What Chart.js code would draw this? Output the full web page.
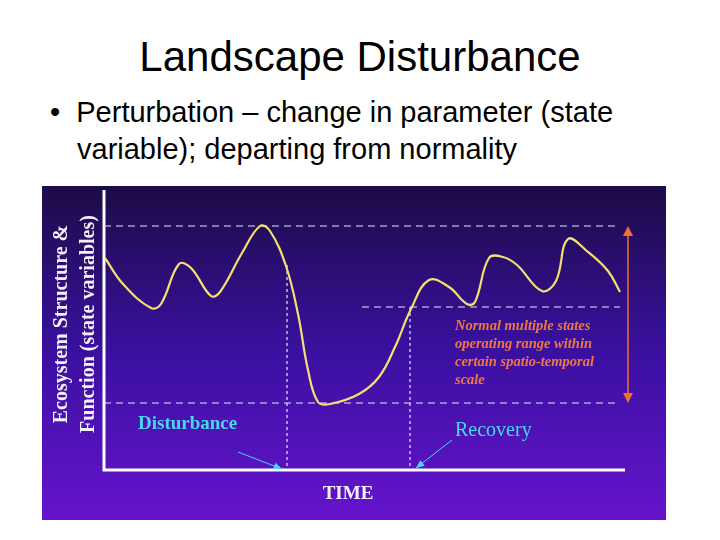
<!DOCTYPE html>
<html><head><meta charset="utf-8">
<script src="https://cdn.jsdelivr.net/npm/chart.js@4"></script>
<style>
body{margin:0;width:720px;height:540px;background:#fff;position:relative;overflow:hidden;font-family:"Liberation Sans",Arial,sans-serif}
#t{position:absolute;top:33px;left:0;width:720px;text-align:center;font-size:42px;color:#000}
.b{position:absolute;left:50px;font-size:29px;color:#000;white-space:nowrap}
#wrap{position:absolute;left:42px;top:186px;width:624px;height:334px}
</style></head><body>
<div id="t">Landscape Disturbance</div>
<div class="b" style="top:96px">•&nbsp;&nbsp;Perturbation – change in parameter (state</div>
<div class="b" style="top:133px;left:77px">variable); departing from normality</div>
<div id="wrap"><canvas id="c" width="624" height="334"></canvas></div>
<script>
const timeValues=[1,19,47,57,75,87,107,116,138,156,166,182,194,204,214,226,255,275,291,307,325,345,363,371,385,399,413,438,452,464,484,504,516];
const stateValues=[212,186,162,166,206,202,174,178,217,244,239,204,156,100,68,66,76,93,123,161,190,183,166,168,212,213,205,179,189,231,218,199,178];
const rangeLevels=[244,163,67];
const eventTimes=[183,306];
const yTitle=["Ecosystem Structure &","Function (state variables)"];
const noteLines=["Normal multiple states","operating range within","certain spatio-temporal","scale"];

const deco={id:'deco',
beforeDraw(ch){const c=ch.ctx,W=ch.width,H=ch.height;
 const g=c.createLinearGradient(0,0,0,H);g.addColorStop(0,'#1c0c48');g.addColorStop(0.5,'#3a10a0');g.addColorStop(1,'#6614cc');
 c.fillStyle=g;c.fillRect(0,0,W,H);
 const a=ch.chartArea,xs=ch.scales.x,ys=ch.scales.y;
 c.save();c.strokeStyle='#fff';c.lineWidth=3;c.beginPath();c.moveTo(a.left,a.top-5);c.lineTo(a.left,a.bottom);c.lineTo(a.right,a.bottom);c.stroke();
 c.lineWidth=1.2;c.setLineDash([7,5]);c.strokeStyle='#e8e8f0';
 const xr=xs.getPixelForValue(516);
 [[0,rangeLevels[0]],[258,rangeLevels[1]],[0,rangeLevels[2]]].forEach(([x0,v])=>{const y=ys.getPixelForValue(v);c.beginPath();c.moveTo(xs.getPixelForValue(x0),y);c.lineTo(xr,y);c.stroke();});
 c.setLineDash([3,3]);
 eventTimes.forEach((t,i)=>{const x=xs.getPixelForValue(t);c.beginPath();c.moveTo(x,ys.getPixelForValue(i?rangeLevels[1]:205));c.lineTo(x,a.bottom);c.stroke();});
 c.setLineDash([]);
 const ax=xs.getPixelForValue(524),y1=ys.getPixelForValue(rangeLevels[0]),y2=ys.getPixelForValue(rangeLevels[2]);
 c.strokeStyle='#f07030';c.fillStyle='#f07030';c.lineWidth=1.5;c.beginPath();c.moveTo(ax,y1+6);c.lineTo(ax,y2-6);c.stroke();
 c.beginPath();c.moveTo(ax,y1);c.lineTo(ax-5,y1+10);c.lineTo(ax+5,y1+10);c.fill();
 c.beginPath();c.moveTo(ax,y2);c.lineTo(ax-5,y2-10);c.lineTo(ax+5,y2-10);c.fill();
 c.fillStyle='#f4f0f8';c.font='bold 20px "Liberation Serif",serif';c.textAlign='center';c.textBaseline='middle';
 c.save();c.translate(20,138);c.rotate(-Math.PI/2);c.fillText(yTitle[0],0,0);c.fillText(yTitle[1],0,27);c.restore();
 c.font='bold 19px "Liberation Serif",serif';c.fillText('TIME',306,308);
 c.fillStyle='#48d8f0';c.textAlign='left';c.font='bold 19px "Liberation Serif",serif';
 c.fillText('Disturbance',96,238);c.font='20px "Liberation Serif",serif';c.fillText('Recovery',413,245);
 c.strokeStyle='#48d8f0';c.lineWidth=1;
 const arr=(x0,y0,x1,y1)=>{c.beginPath();c.moveTo(x0,y0);c.lineTo(x1,y1);c.stroke();const an=Math.atan2(y1-y0,x1-x0);c.beginPath();c.moveTo(x1,y1);c.lineTo(x1-9*Math.cos(an-0.4),y1-9*Math.sin(an-0.4));c.lineTo(x1-9*Math.cos(an+0.4),y1-9*Math.sin(an+0.4));c.fill();};
 arr(196,266,240,283);arr(410,254,374,282);
 c.fillStyle='#f07840';c.font='italic bold 14.5px "Liberation Serif",serif';
 noteLines.forEach((l,i)=>c.fillText(l,413,140+i*18));
 c.restore();}};

new Chart(document.getElementById('c'),{type:'line',
data:{datasets:[{data:timeValues.map((t,i)=>({x:t,y:stateValues[i]})),borderColor:'#f4e070',borderWidth:2.2,pointRadius:0,tension:0.4,fill:false}]},
options:{responsive:false,animation:false,events:[],
 layout:{padding:{left:62,right:41,top:9,bottom:50}},
 plugins:{legend:{display:false},tooltip:{enabled:false}},
 scales:{x:{type:'linear',min:0,max:521,display:false},y:{min:0,max:275,display:false}}},
plugins:[deco]});
</script></body></html>
